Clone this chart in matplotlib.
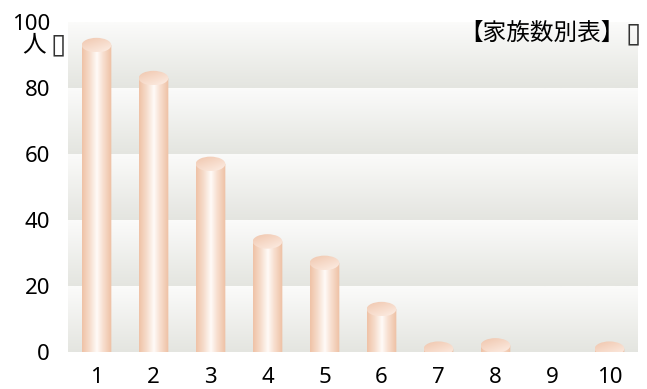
import numpy as np
import matplotlib.pyplot as plt
from matplotlib.colors import LinearSegmentedColormap
from matplotlib.path import Path
from matplotlib.patches import Ellipse, PathPatch

plt.rcParams['font.family'] = ['Noto Sans', 'Noto Sans CJK JP', 'DejaVu Sans']

# data
categories = ['1', '2', '3', '4', '5', '6', '7', '8', '9', '10']
counts = [93, 83, 57, 33.5, 27, 13, 1, 2, 0, 1]
y_ticks = [0, 20, 40, 60, 80, 100]
title = '【家族数別表】'
unit_label = '人'
missing_glyph = '▯'

fig = plt.figure(figsize=(6.47, 3.89), dpi=100)
ax = fig.add_axes([68 / 647, 1 - 352 / 389, 570 / 647, 330 / 389])
ax.set_xlim(0, len(categories))
ax.set_ylim(0, 100)

# banded background, each band fades from white to grey
band_cmap = LinearSegmentedColormap.from_list('band', ['#e4e5e0', '#fbfbfa'])
grad_v = np.linspace(0, 1, 64).reshape(-1, 1)
for lo in y_ticks[:-1]:
    ax.imshow(grad_v, cmap=band_cmap, aspect='auto', origin='lower',
              extent=[0, len(categories), lo, lo + 20], zorder=0)

# cylinder colours
side_cmap = LinearSegmentedColormap.from_list(
    'side', [(0, '#efc2a6'), (0.25, '#f6dccb'), (0.5, '#fffbf8'),
             (0.7, '#f8e0d1'), (1, '#eebfa2')])
top_cmap = LinearSegmentedColormap.from_list('top', ['#f0c6ad', '#fdeee5'])
grad_h = np.linspace(0, 1, 128).reshape(1, -1)

w = 0.52
ry = 2.2  # ellipse half height in data units
t = np.linspace(np.pi, 2 * np.pi, 60)

for i, v in enumerate(counts):
    if v <= 0:
        continue
    cx = i + 0.5
    # side of the cylinder with rounded bottom
    verts = [(cx - w / 2, v), (cx - w / 2, 0)]
    verts += list(zip(cx + w / 2 * np.cos(t), ry * np.sin(t)))
    verts += [(cx + w / 2, v), (cx - w / 2, v)]
    codes = [Path.MOVETO] + [Path.LINETO] * (len(verts) - 2) + [Path.CLOSEPOLY]
    side = PathPatch(Path(verts, codes), facecolor='none', edgecolor='none')
    ax.add_patch(side)
    im = ax.imshow(grad_h, cmap=side_cmap, aspect='auto',
                   extent=[cx - w / 2, cx + w / 2, -ry, v], zorder=2)
    im.set_clip_path(side)
    # top ellipse
    top = Ellipse((cx, v), w, 2 * ry, facecolor='none', edgecolor='none')
    ax.add_patch(top)
    gd = np.add.outer(np.linspace(0, 0.6, 32), np.linspace(0, 0.4, 32))
    im2 = ax.imshow(gd, cmap=top_cmap, aspect='auto', origin='upper',
                    extent=[cx - w / 2, cx + w / 2, v - ry, v + ry], zorder=3)
    im2.set_clip_path(top)

ax.set_xlim(0, len(categories))
ax.set_ylim(0, 100)
ax.set_xticks(np.arange(len(categories)) + 0.5)
ax.set_xticklabels(categories)
ax.set_yticks(y_ticks)
ax.tick_params(length=0, labelsize=16)
ax.tick_params(axis='x', pad=11)
ax.tick_params(axis='y', pad=13)
for s in ax.spines.values():
    s.set_visible(False)

# unit and title, each followed by a box for the glyph the source font lacked
fig.text(34 / 647, 1 - 45 / 389, unit_label, fontsize=17, ha='center',
         va='center', family='Noto Sans CJK JP')
fig.text(58 / 647, 1 - 44 / 389, missing_glyph, fontsize=20, ha='center',
         va='center', family='DejaVu Sans', color='#333333')
fig.text(625 / 647, 1 - 33 / 389, title, fontsize=17, ha='right',
         va='center', family='Noto Sans CJK JP')
fig.text(633 / 647, 1 - 33 / 389, missing_glyph, fontsize=20, ha='center',
         va='center', family='DejaVu Sans', color='#333333')

fig.savefig('out.png', dpi=100)
